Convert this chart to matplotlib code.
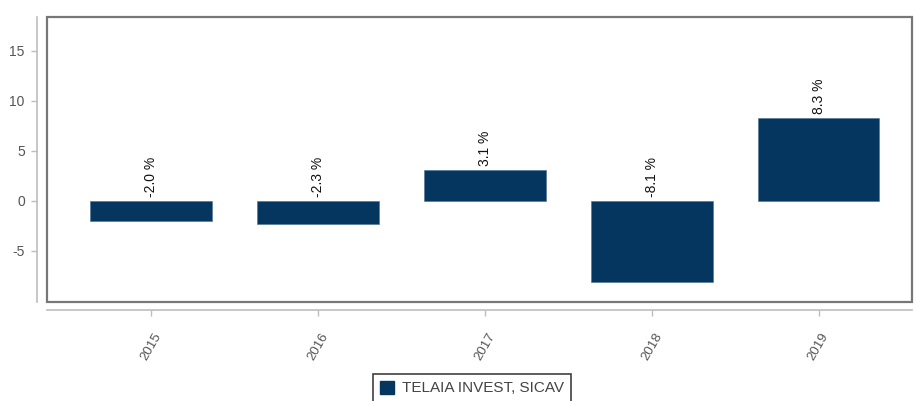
import matplotlib.pyplot as plt
from matplotlib.patches import Rectangle, Patch

plt.rcParams['font.family'] = ['Liberation Sans', 'DejaVu Sans']
plt.rcParams['axes.unicode_minus'] = False

years = ['2015', '2016', '2017', '2018', '2019']
returns = [-2.0, -2.3, 3.1, -8.1, 8.3]
series_name = 'TELAIA INVEST, SICAV'
bar_color = '#04365f'

fig = plt.figure(figsize=(9.17, 4.01), dpi=100)
ax = fig.add_axes([47 / 917, 1 - 302 / 401, 865 / 917, 285 / 401])

x = list(range(len(years)))
ax.bar(x, returns, width=0.73, color=bar_color, edgecolor='#4a6f93', linewidth=0.4, zorder=2)

# value labels, rotated; negatives sit just above zero
for xi, v in zip(x, returns):
    y = max(v, 0) + 0.4
    ax.text(xi, y, f'{v:.1f} %', rotation=90, ha='center', va='bottom',
            fontsize=10, color='#111111')

ax.set_xlim(-0.624, 4.56)
ax.set_ylim(-10.1, 18.4)
ax.set_yticks([-5, 0, 5, 10, 15])
ax.set_xticks(x)
ax.set_xticklabels(years)

# detached axis lines on left and bottom, framed plot area
for side in ['top', 'right']:
    ax.spines[side].set_visible(False)
ax.spines['left'].set_position(('outward', 7))
ax.spines['bottom'].set_position(('outward', 6))
for side in ['left', 'bottom']:
    ax.spines[side].set_color('#bdbdbd')
    ax.spines[side].set_linewidth(1.2)
ax.tick_params(axis='both', colors='#bdbdbd', labelcolor='#555555',
               labelsize=10, length=4, width=1)
ax.tick_params(axis='y', pad=5)
ax.tick_params(axis='x', pad=11, labelrotation=60, labelsize=9.5)
for lbl in ax.get_xticklabels():
    lbl.set_ha('center')
    lbl.set_va('top')
ax.add_patch(Rectangle((0, 0), 1, 1, transform=ax.transAxes, fill=False,
                       edgecolor='#777777', linewidth=1.6, clip_on=False, zorder=3))

handle = Patch(facecolor=bar_color, edgecolor=bar_color)
leg = fig.legend([handle], [series_name], loc='upper center',
                 bbox_to_anchor=(472 / 917, 1 - 374 / 401), fontsize=11,
                 frameon=True, fancybox=False, handlelength=0.9, handleheight=0.9,
                 borderpad=0.45, handletextpad=0.5, borderaxespad=0)
leg.get_frame().set_edgecolor('#111111')
leg.get_frame().set_linewidth(1.2)
for t in leg.get_texts():
    t.set_color('#444444')

fig.savefig('out.png', dpi=100)
